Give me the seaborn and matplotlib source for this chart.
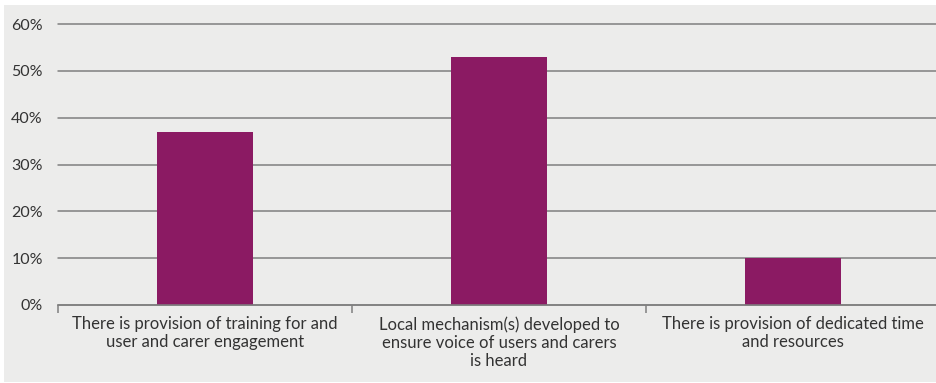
import matplotlib
matplotlib.use("Agg")
import matplotlib.pyplot as plt
import seaborn as sns
import pandas as pd
from matplotlib.patches import Rectangle
from matplotlib.ticker import FuncFormatter, FixedLocator

categories = [
    "There is provision of training for and\nuser and carer engagement",
    "Local mechanism(s) developed to\nensure voice of users and carers\nis heard",
    "There is provision of dedicated time\nand resources",
]
shares = [37, 53, 10]
y_ticks = [0, 10, 20, 30, 40, 50, 60]

bg = "#ececeb"
bar_color = "#8b1a63"
grid_color = "#7f7f7f"
text_color = "#333333"

sns.set_theme(style="white")
plt.rcParams["font.family"] = ["Lato", "DejaVu Sans"]

W, H = 937, 383
fig = plt.figure(figsize=(W / 100, H / 100), dpi=100, facecolor="white")
fig.patches.append(Rectangle((4 / W, 1 - 382 / H), (W - 4) / W, (382 - 5) / H,
                             transform=fig.transFigure, facecolor=bg,
                             edgecolor="none", zorder=-10))

left, right, top, bottom = 58, 940, 24, 305
ax = fig.add_axes([left / W, 1 - bottom / H, (right - left) / W, (bottom - top) / H])
ax.set_facecolor("none")

df = pd.DataFrame({"category": categories, "share": shares})
sns.barplot(data=df, x="category", y="share", color=bar_color, saturation=1,
            width=0.325, linewidth=0, edgecolor="none", ax=ax, zorder=3)

ax.set_xlim(-0.5, 2.5)
ax.set_ylim(0, 60)
ax.set_yticks(y_ticks)
ax.yaxis.set_major_formatter(FuncFormatter(lambda v, p: f"{v:.0f}%"))
ax.grid(axis="y", color=grid_color, linewidth=1.1, zorder=1)
ax.grid(axis="x", visible=False)
for g in ax.get_ygridlines():
    g.set_clip_on(False)

for s in ["top", "right", "left"]:
    ax.spines[s].set_visible(False)
ax.spines["bottom"].set_color(grid_color)
ax.spines["bottom"].set_linewidth(1.1)
ax.spines["bottom"].set_zorder(4)

ax.set_xlabel("")
ax.set_ylabel("")
ax.tick_params(axis="y", length=0, pad=11, labelsize=11.5, labelcolor=text_color)
ax.tick_params(axis="x", which="major", length=0, pad=8, labelsize=12,
               labelcolor=text_color)
ax.xaxis.set_minor_locator(FixedLocator([-0.5, 0.5, 1.5, 2.5]))
ax.tick_params(axis="x", which="minor", length=6, width=1.1, color=grid_color,
               direction="out", bottom=True)
for lbl in ax.get_xticklabels():
    lbl.set_linespacing(1.17)

fig.savefig("out.png", dpi=100, facecolor="white")
